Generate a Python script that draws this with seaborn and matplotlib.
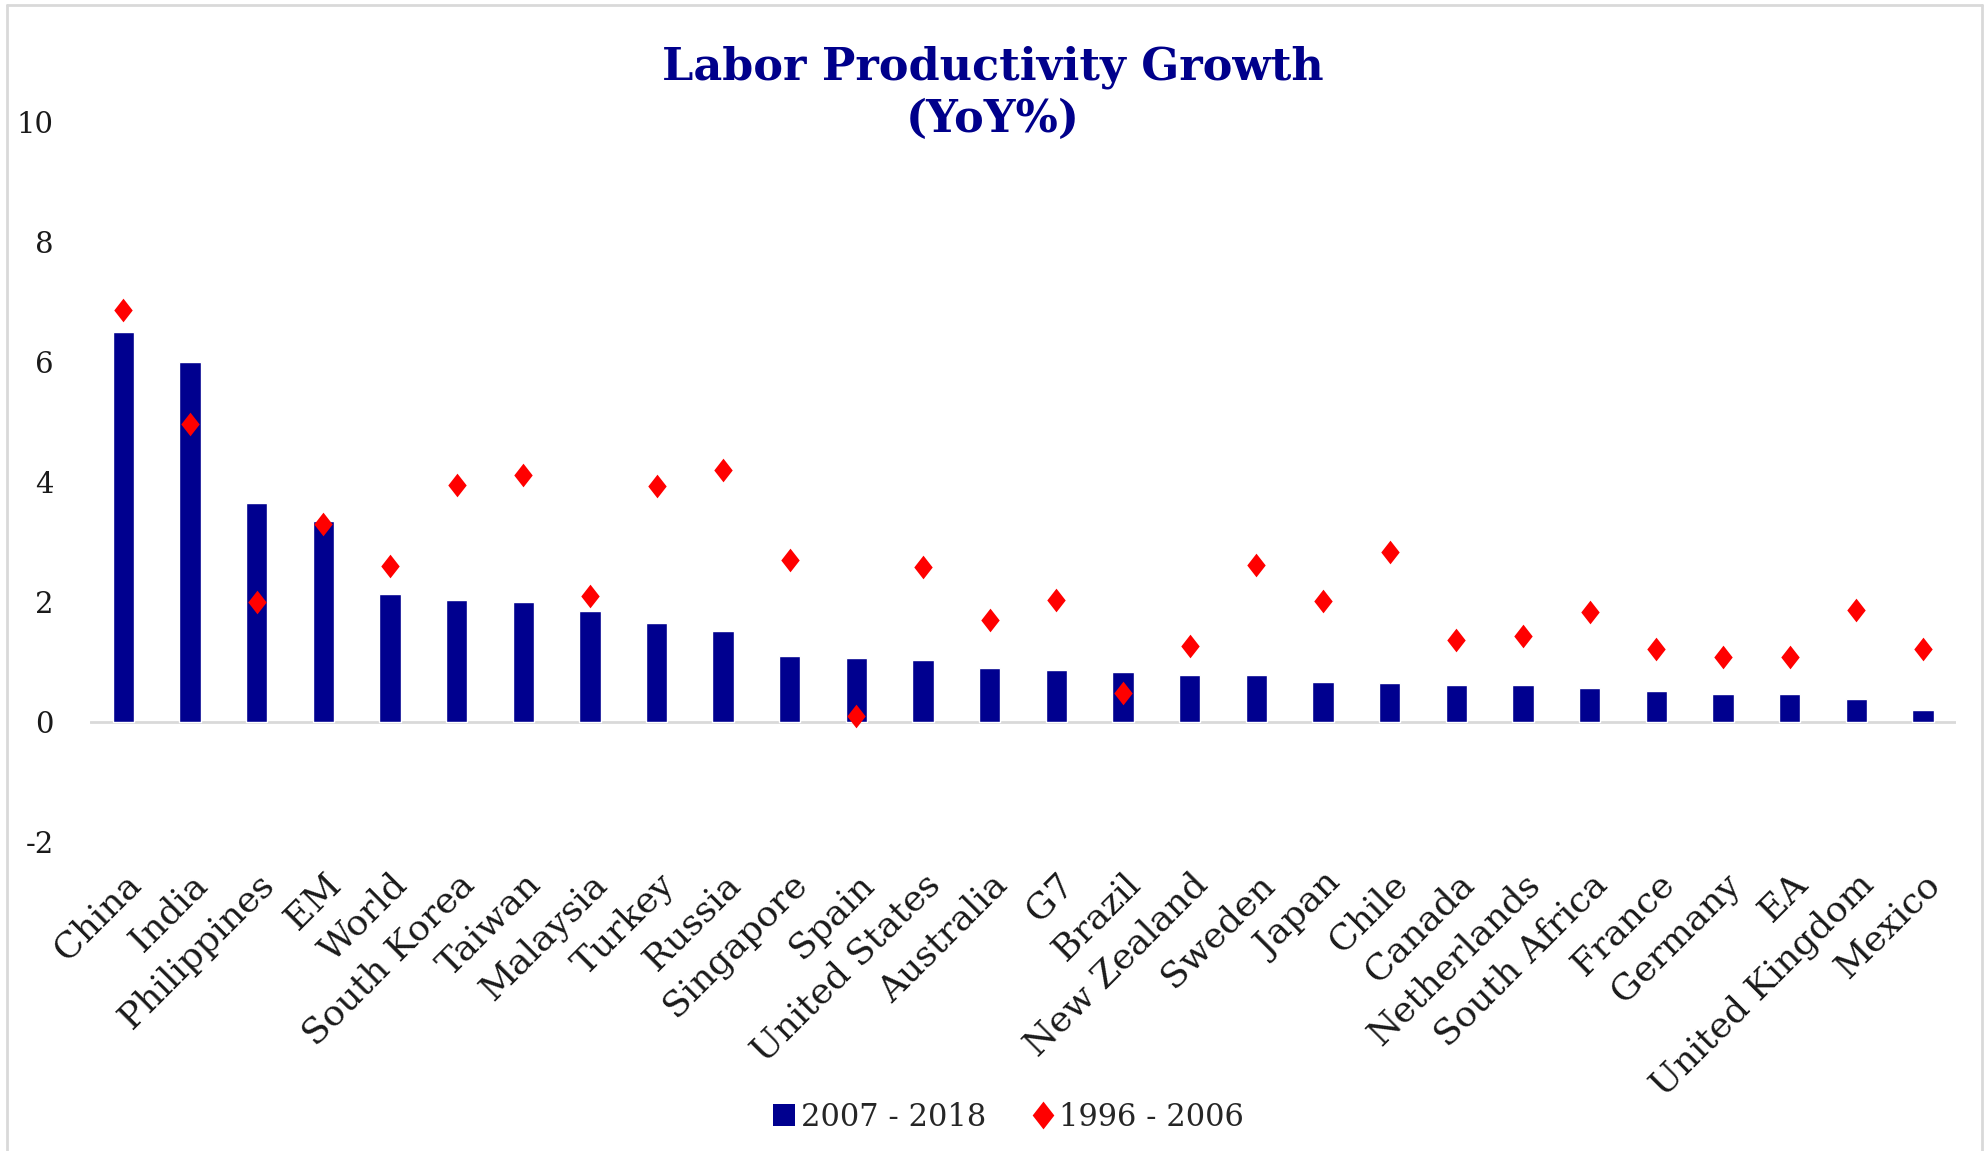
import numpy as np
import pandas as pd
import matplotlib
matplotlib.use("Agg")
import matplotlib.pyplot as plt
from matplotlib.path import Path
from matplotlib.markers import MarkerStyle
from matplotlib.lines import Line2D
from matplotlib.patches import Patch
import seaborn as sns

countries = ["China", "India", "Philippines", "EM", "World", "South Korea", "Taiwan",
             "Malaysia", "Turkey", "Russia", "Singapore", "Spain", "United States",
             "Australia", "G7", "Brazil", "New Zealand", "Sweden", "Japan", "Chile",
             "Canada", "Netherlands", "South Africa", "France", "Germany", "EA",
             "United Kingdom", "Mexico"]
growth_2007_2018 = [6.5, 6.0, 3.65, 3.35, 2.14, 2.04, 2.0, 1.85, 1.65, 1.52, 1.1, 1.07,
                    1.03, 0.9, 0.87, 0.83, 0.78, 0.78, 0.67, 0.65, 0.61, 0.61, 0.57,
                    0.52, 0.47, 0.47, 0.39, 0.2]
growth_1996_2006 = [6.87, 4.96, 2.0, 3.3, 2.6, 3.95, 4.12, 2.1, 3.94, 4.2, 2.7, 0.1,
                    2.58, 1.7, 2.04, 0.48, 1.26, 2.62, 2.02, 2.84, 1.36, 1.44, 1.84,
                    1.22, 1.08, 1.08, 1.87, 1.22]
y_ticks = [-2, 0, 2, 4, 6, 8, 10]
title_text = "Labor Productivity Growth\n(YoY%)"
legend_labels = ["2007 - 2018", "1996 - 2006"]

BAR_COLOR = "#00008F"
DIAMOND_COLOR = "#FF0000"
TITLE_COLOR = "#00008B"

sns.set_theme(style="white")
plt.rcParams["font.family"] = ["DejaVu Serif"]

df = pd.DataFrame({"country": countries,
                   "recent": growth_2007_2018,
                   "earlier": growth_1996_2006})

fig = plt.figure(figsize=(19.86, 11.51), dpi=100)
ax = fig.add_axes([0.0453, 0.2685, 0.9397, 0.6255])

sns.barplot(data=df, x="country", y="recent", color=BAR_COLOR, saturation=1,
            width=0.32, ax=ax, order=countries)

diamond = MarkerStyle(Path([(0, 1), (0.78, 0), (0, -1), (-0.78, 0), (0, 1)],
                           [Path.MOVETO, Path.LINETO, Path.LINETO, Path.LINETO, Path.CLOSEPOLY]))
sns.scatterplot(data=df, x="country", y="earlier", marker=diamond, s=290,
                color=DIAMOND_COLOR, linewidth=0, ax=ax, zorder=5)

ax.axhline(0, color="#D9D9D9", linewidth=2, zorder=1)
ax.set_ylim(-2, 10)
ax.set_xlim(-0.5, len(countries) - 0.5)
ax.set_yticks(y_ticks)
ax.set_yticklabels([str(t) for t in y_ticks])
ax.tick_params(axis="y", labelsize=21, pad=26, length=0, labelcolor="#1a1a1a")
ax.tick_params(axis="x", labelsize=26, pad=18, length=0, labelcolor="#1a1a1a")
for lbl in ax.get_xticklabels():
    lbl.set_rotation(45)
    lbl.set_ha("right")
    lbl.set_va("top")
    lbl.set_rotation_mode("anchor")
for s in ax.spines.values():
    s.set_visible(False)
ax.set_xlabel("")
ax.set_ylabel("")
ax.grid(False)
for b in ax.patches:
    b.set_zorder(3)

fig.text(0.5, 0.919, title_text, ha="center", va="center", fontsize=32,
         fontweight="bold", color=TITLE_COLOR, linespacing=1.25)

handles = [Patch(facecolor=BAR_COLOR, edgecolor="none"),
           Line2D([], [], marker=diamond, linestyle="none", color=DIAMOND_COLOR,
                  markersize=20, markeredgewidth=0)]
fig.legend(handles, legend_labels, loc="center", bbox_to_anchor=(0.508, 0.0295),
           ncol=2, frameon=False, fontsize=22, handlelength=0.7, handleheight=0.75,
           handletextpad=0.2, columnspacing=1.5)

border = dict(color="#D9D9D9", linewidth=2, transform=fig.transFigure)
fig.add_artist(Line2D([0.0035, 0.0035], [0, 0.9957], **border))
fig.add_artist(Line2D([0.0035, 0.998], [0.9957, 0.9957], **border))
fig.add_artist(Line2D([0.998, 0.998], [0, 0.9957], **border))

fig.savefig("out.png", dpi=100, facecolor="white")
